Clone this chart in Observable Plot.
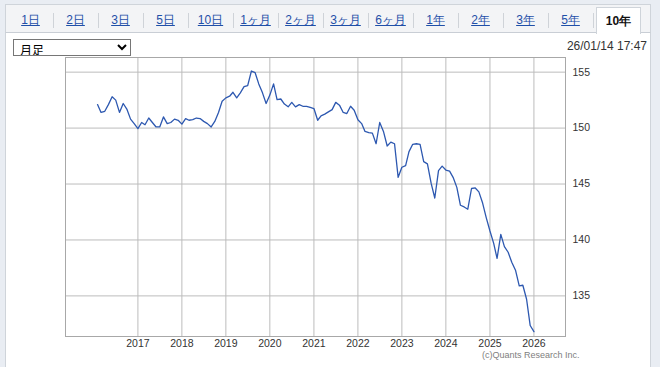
<!DOCTYPE html>
<html><head><meta charset="utf-8">
<script src="https://cdn.jsdelivr.net/npm/d3@7"></script>
<script src="https://cdn.jsdelivr.net/npm/@observablehq/plot@0.6"></script>
<style>
html,body{margin:0;padding:0}
body{width:660px;height:367px;overflow:hidden;background:#e9edf3;font-family:"Liberation Sans",Arial,sans-serif;position:relative}
#box{position:absolute;left:5px;top:4px;width:646px;height:370px;background:#fff;border:1px solid #cfd4da;box-sizing:border-box}
#tabbar{position:absolute;left:5px;top:4px;width:646px;height:29px;background:#f3f4f6;border:1px solid #cfd4da;border-bottom:1px solid #c9ced5;box-sizing:border-box}
.tab{position:absolute;top:9px;width:45px;height:22px;line-height:22px;text-align:center;font-size:12px;color:#1f4fa8;text-decoration:underline}
.sep{position:absolute;top:13px;width:1px;height:15px;background:#cfd3d8}
#active{position:absolute;left:596px;top:7px;width:45px;height:27px;background:#fff;border:1px solid #cfd4da;border-bottom:none;box-sizing:border-box;text-align:center;line-height:26px;font-size:12px;font-weight:bold;color:#111}
#sel{position:absolute;left:13px;top:39px;width:118px;height:17px;font-size:12px;padding:0 0 0 2px;border:1px solid #767676;border-radius:0;background:#fff;color:#000;font-family:"Noto Sans CJK JP","Liberation Sans",sans-serif}
#stamp{position:absolute;right:13px;top:39px;font-size:12px;color:#333}
#chart{position:absolute;left:0;top:50px}
#copy{position:absolute;left:482px;top:350px;font-size:9px;color:#808080}
</style></head>
<body>
<div id="box"></div>
<div id="tabbar"></div>
<div id="tabs"></div>
<select id="sel"><option>月足</option></select>
<div id="stamp">26/01/14 17:47</div>
<div id="chart"></div>
<div id="copy">(c)Quants Research Inc.</div>
<script>
// Tab labels
const tabLabels = ["1日","2日","3日","5日","10日","1ヶ月","2ヶ月","3ヶ月","6ヶ月","1年","2年","3年","5年"];
const activeTab = "10年";
// Series: monthly values, starting February 2016, ending January 2026
const startYear = 2016, startMonth = 1; // 0-based month (Feb)
const values = [
152.1,151.4,151.5,152.1,152.8,152.5,151.4,152.2,151.7,150.8,150.4,149.95,
150.5,150.3,150.9,150.5,150.1,150.1,151.0,150.4,150.5,150.8,150.7,150.35,
150.85,150.7,150.75,150.9,150.85,150.6,150.4,150.1,150.6,151.4,152.4,152.7,
152.85,153.2,152.7,153.15,153.7,153.8,155.1,154.95,153.95,153.15,152.2,152.95,
153.95,152.55,152.6,152.15,151.9,152.3,151.9,152.1,151.95,151.95,151.85,151.75,
150.7,151.1,151.25,151.45,151.65,152.3,152.05,151.4,151.3,151.95,151.6,150.75,
150.4,149.7,149.6,149.55,148.6,150.5,149.7,148.4,148.75,148.6,145.6,146.5,
146.65,147.9,148.55,148.6,148.55,147.0,146.8,145.05,143.75,146.2,146.6,146.25,
146.15,145.6,144.7,143.1,142.95,142.75,144.6,144.65,144.3,143.3,142.0,140.8,
139.7,138.35,140.5,139.4,138.9,138.0,137.3,135.9,135.95,134.7,132.35,131.8
];
// Axis ticks
const yearTicks = [2017,2018,2019,2020,2021,2022,2023,2024,2025,2026];
const yTicks = [135,140,145,150,155];

// build tabs
const tabs = document.getElementById("tabs");
tabLabels.forEach((t,i)=>{
  const d=document.createElement("div");d.className="tab";d.style.left=(8+45*i)+"px";d.textContent=t;tabs.appendChild(d);
  const s=document.createElement("div");s.className="sep";s.style.left=(53+45*i)+"px";tabs.appendChild(s);
});
const a=document.createElement("div");a.id="active";a.textContent=activeTab;tabs.appendChild(a);

const data = values.map((v,i)=>({date:new Date(Date.UTC(startYear,startMonth+i,1)), value:v}));
const yearDates = yearTicks.map(y=>new Date(Date.UTC(y,0,1)));

const chart = Plot.plot({
  width:660, height:305,
  marginLeft:65, marginRight:95, marginTop:7, marginBottom:19,
  x:{type:"utc", domain:[new Date(Date.UTC(2015,4,11)), new Date(Date.UTC(2026,8,20))]},
  y:{domain:[131.37,156.31]},
  style:{fontFamily:"'Liberation Sans',Arial,sans-serif", fontSize:"10.5px", color:"#333", background:"transparent", overflow:"visible"},
  marks:[
    Plot.gridX(yearDates,{stroke:"#bcbcbc", strokeOpacity:1, strokeWidth:1}),
    Plot.gridY(yTicks,{stroke:"#bcbcbc", strokeOpacity:1, strokeWidth:1}),
    Plot.frame({stroke:"#a8a8a8"}),
    Plot.lineY(data,{x:"date", y:"value", stroke:"#2d58b0", strokeWidth:1.3}),
    Plot.axisX(yearDates,{tickSize:0, tickPadding:3, tickFormat:d3.utcFormat("%Y"), label:null}),
    Plot.axisY(yTicks,{anchor:"right", tickSize:0, tickPadding:7, label:null})
  ]
});
document.getElementById("chart").appendChild(chart);
</script>
</body></html>
